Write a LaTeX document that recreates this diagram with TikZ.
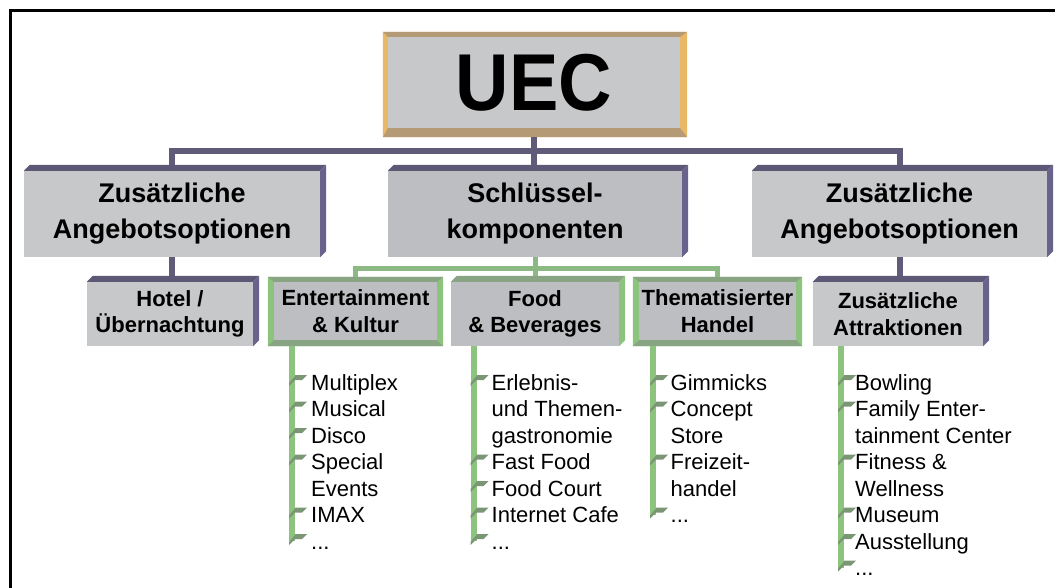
\documentclass[tikz,border=0pt]{standalone}
\usepackage{fontspec}
\setmainfont{Liberation Sans}
\usepackage{graphicx}
\usetikzlibrary{calc}

\definecolor{facegray}{HTML}{C7C8CA}
\definecolor{facedark}{HTML}{BDBEC1}
\definecolor{purptop}{HTML}{5C5876}
\definecolor{purpside}{HTML}{68628C}
\definecolor{purpbar}{HTML}{5F5B79}
\definecolor{grndark}{HTML}{88A483}
\definecolor{grnbright}{HTML}{8DC47D}
\definecolor{greenbar}{HTML}{8CB983}
\definecolor{tan}{HTML}{B59A76}
\definecolor{orng}{HTML}{E8B867}
\definecolor{tickc}{HTML}{7B9675}

\begin{document}
\begin{tikzpicture}[x=1pt, y=-1pt,
  face/.style={fill=facegray, inner sep=0pt, align=center, font=\bfseries\fontsize{22}{26.5}\selectfont},
  bigface/.style={face, minimum width=296, minimum height=86, font=\bfseries\fontsize{27}{36}\selectfont},
  smallface/.style={face, minimum height=64},
  items/.style={anchor=north west, inner sep=0pt, align=left, font=\fontsize{22}{26.5}\selectfont},
  pbar/.style={draw=purpbar, line width=6pt},
  gbar/.style={draw=greenbar, line width=5pt},
  stem/.style={draw=grnbright, line width=6pt},
  flag/.pic={\fill[tickc] (-3,8) -- (3,1) -- (3,0) -- (15,0) -- (10,5) -- (3,5) -- (-3,11) -- cycle;}
]
\useasboundingbox (0,0) rectangle (1055,587);
\draw[line width=3.5pt] (10.5,600) -- (10.5,10.5) -- (1070,10.5);

% top
\node[face, minimum width=292, minimum height=91, font=\bfseries\fontsize{74}{80}\selectfont] (uec) at (534,82.5) {\scalebox{1}[1.09]{UEC}};

% first row
\node[bigface] (opl) at (172,214) {Zusätzliche\\Angebotsoptionen};
\node[bigface, fill=facedark, minimum width=294] (kern) at (535,214) {Schlüssel-\\komponenten};
\node[bigface, minimum width=295] (opr) at (899.5,214) {Zusätzliche\\Angebotsoptionen};

% second row
\node[smallface, minimum width=166] (hotel) at (170,314) {Hotel /\\Übernachtung};
\node[smallface, fill=facedark, minimum width=163, minimum height=58] (ent) at (355.5,311) {Entertainment\\\& Kultur};
\node[smallface, fill=facedark, minimum width=168] (food) at (535,314) {Food\\\& Beverages};
\node[smallface, fill=facedark, minimum width=157, minimum height=58] (them) at (717.5,311) {Thematisierter\\Handel};
\node[smallface, minimum width=170] (attr) at (898,314) {Zusätzliche\\Attraktionen};

% 3d faces
\foreach \nd/\tc/\sc in {opl/purptop/purpside, kern/purptop/purpside, opr/purptop/purpside,
    hotel/purptop/purpside, attr/purptop/purpside, food/grndark/grnbright} {
  \fill[\tc] (\nd.north west) -- ++(6,-6) -- ([shift={(6,-6)}]\nd.north east) -- (\nd.north east) -- cycle;
  \fill[\sc] (\nd.north east) -- ++(6,-6) -- ([shift={(6,-6)}]\nd.south east) -- (\nd.south east) -- cycle;
}
\foreach \nd/\dc/\bc/\bl/\bt/\br/\bb in {uec/tan/orng/5/5/7/9, ent/grndark/grnbright/6/5/6/6, them/grndark/grnbright/6/5/6/6} {
  \fill[\bc, even odd rule] ([shift={(-\bl,-\bt)}]\nd.north west) rectangle ([shift={(\br,\bb)}]\nd.south east)
    (\nd.north west) rectangle (\nd.south east);
  \fill[\dc] ([shift={(-\bl,-\bt)}]\nd.north west) -- ([shift={(\br,-\bt)}]\nd.north east) -- (\nd.north east) -- (\nd.north west) -- cycle;
  \fill[\dc] ([shift={(-\bl,\bb)}]\nd.south west) -- ([shift={(\br,\bb)}]\nd.south east) -- (\nd.south east) -- (\nd.south west) -- cycle;
}

% connectors
\coordinate (pj) at ($(uec.south)+(0,23)$);
\draw[pbar] ([yshift=-9pt]uec.south) -- (pj);
\draw[pbar] (pj) -| ([yshift=6pt]opl.north);
\draw[pbar] (pj) -| ([yshift=6pt]opr.north);
\draw[pbar] (pj) -- ([yshift=6pt]kern.north -| pj);
\draw[pbar] (opl.south) -- ([yshift=6pt]hotel.north -| opl.south);
\draw[pbar] (opr.south) -- ([yshift=6pt]attr.north -| opr.south);

\coordinate (gj) at ($(kern.south)+(0,11)$);
\draw[gbar] (kern.south) -- (gj);
\draw[gbar] (gj) -| ([yshift=5pt]ent.north);
\draw[gbar] (gj) -| ([yshift=5pt]them.north);
\draw[gbar] (gj) -- ([yshift=6pt]food.north -| gj);

% lists
\node[items] (lent) at (311,374.25) {Multiplex\\Musical\\Disco\\Special\\Events\\IMAX\\...};
\node[items] (lfood) at (491.5,374.25) {Erlebnis-\\und Themen-\\gastronomie\\Fast Food\\Food Court\\Internet Cafe\\...};
\node[items] (lthem) at (670.5,374.25) {Gimmicks\\Concept\\Store\\Freizeit-\\handel\\...};
\node[items] (lattr) at (855,374.25) {Bowling\\Family Enter-\\tainment Center\\Fitness \&\\Wellness\\Museum\\Ausstellung\\...};

\coordinate (entend) at (292,541);
\coordinate (foodend) at (473.5,541);
\coordinate (themend) at (653,514.5);
\coordinate (attrend) at (841,567.5);
\draw[stem] ([yshift=-6pt]ent.south -| entend) -- (entend);
\draw[stem] (food.south -| foodend) -- (foodend);
\draw[stem] ([yshift=-6pt]them.south -| themend) -- (themend);
\draw[stem] (attr.south -| attrend) -- (attrend);

\foreach \k in {0,1,2,3,5,6} \pic at (292,375+26.5*\k) {flag};
\foreach \k in {0,3,4,5,6} \pic at (473.5,375+26.5*\k) {flag};
\foreach \k in {0,1,3,5} \pic at (653,375+26.5*\k) {flag};
\foreach \k in {0,1,3,5,6,7} \pic at (841,375+26.5*\k) {flag};

\end{tikzpicture}
\end{document}
